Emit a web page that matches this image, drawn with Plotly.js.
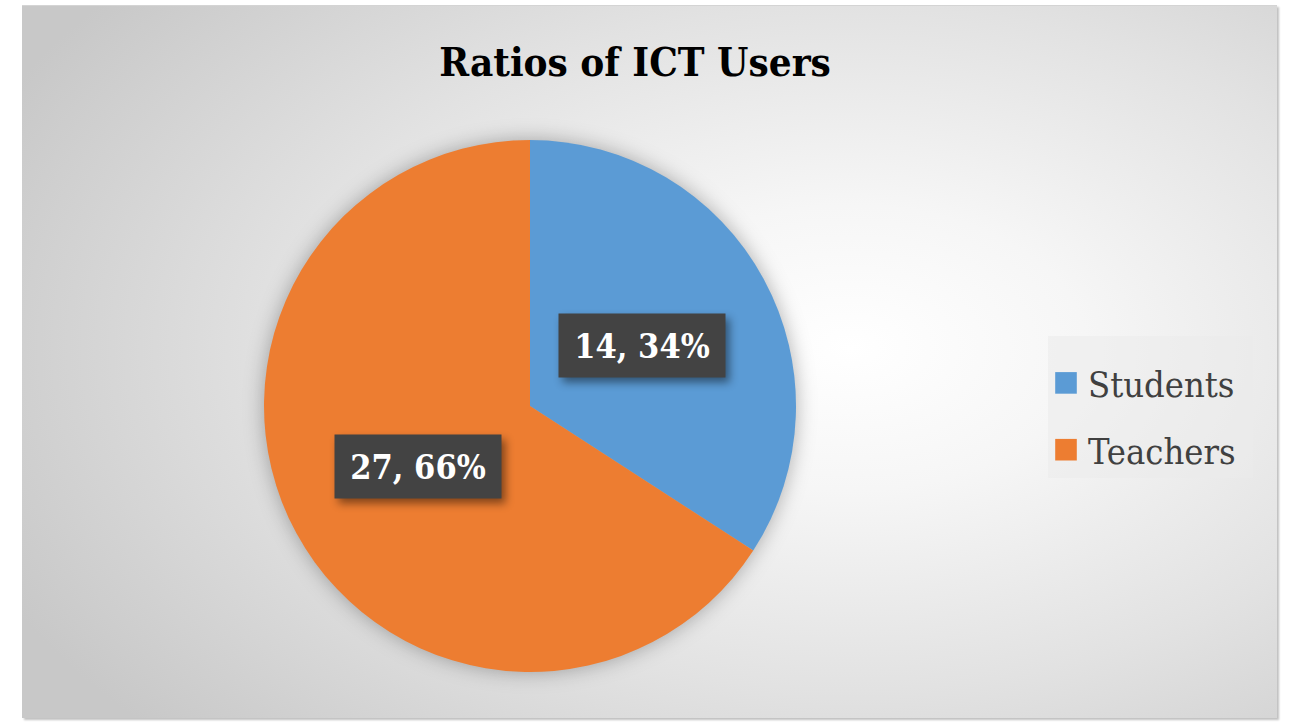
<!DOCTYPE html>
<html>
<head>
<meta charset="utf-8">
<script src="https://cdn.plot.ly/plotly-3.0.1.min.js"></script>
<style>
    body { margin: 0; background: #ffffff; }
    #frame {
        position: absolute; left: 22px; top: 5px; width: 1255px; height: 712px;
        border-top: 1px solid #d4d4d4;
        box-shadow: 2px 2px 2px rgba(0, 0, 0, 0.25);
        background: radial-gradient(ellipse 75% 80% at 66% 48%, #ffffff 0%, #f6f6f6 25%, #e2e2e2 60%, #c8c8c8 100%);
    }
    #myPlot { position: absolute; left: 0; top: 0; width: 1292px; height: 725px; }
    /* soft shadow round the pie and the label boxes, like the office chart */
    .pielayer { filter: drop-shadow(0 0 10px rgba(0, 0, 0, 0.3)); }
    .annotation rect.bg { filter: drop-shadow(4px 5px 4px rgba(0, 0, 0, 0.45)); }
    /* bigger legend squares (plotly draws them 12px wide at x=20) */
    .legendpoints path { transform: translate(18px, 0) scale(1.8); }
</style>
</head>
<body>
<div id="frame"></div>
<div id="myPlot"></div>
<script>
// chart data
var labels = ['Students', 'Teachers'];
var values = [14, 27];
var colors = ['#5B9BD5', '#ED7D31'];

var W = 1292;
var H = 725;

// pie placement (pixels)
var cx = 530;
var cy = 406;
var r  = 266;

var serif = 'DejaVu Serif Condensed, DejaVu Serif, serif';

function labelBoxes() {
    /* Build one annotation per slice, placed at mid-angle of the slice

    Slices go clockwise from 12 o'clock, so angle is measured from the top.
    */
    var total = 0;
    for (var i = 0; i < values.length; ++i) {
        total += values[i];
    }
    var out = [];
    var start = 0;
    for (var i = 0; i < values.length; ++i) {
        var frac = values[i] / total;
        var mid  = (start + frac / 2) * 2 * Math.PI;
        start += frac;
        var px = cx + 0.48 * r * Math.sin(mid);
        var py = cy - 0.48 * r * Math.cos(mid);
        out.push({
            x: px / W,
            y: 1 - py / H,
            xref: 'paper',
            yref: 'paper',
            xanchor: 'center',
            yanchor: 'middle',
            text: values[i] + ', ' + Math.round(frac * 100) + '%',
            showarrow: false,
            bgcolor: '#434343',
            width: 146,
            height: 43,
            borderpad: 10,
            font: { family: serif, size: 34, color: '#ffffff', weight: 'bold' }
        });
    }
    return out;
}

function spreadLegend(gd) {
    /* Plotly has no vertical gap option for legend items, so push them apart by hand
    */
    var gap = 17;
    var leg = gd.querySelector('.legend');
    var t = leg.getAttribute('transform') || '';
    leg.setAttribute('transform', t + ' translate(0,-15)');

    var box = gd.querySelector('.legend .scrollbox');
    if (box) box.removeAttribute('clip-path');

    var items = gd.querySelectorAll('.legend .traces');
    for (var i = 0; i < items.length; ++i) {
        var ti = items[i].getAttribute('transform') || '';
        items[i].setAttribute('transform', ti + ' translate(0,' + (gap * (i + 1)) + ')');
    }
    var bg = gd.querySelector('.legend .bg');
    bg.setAttribute('height', parseFloat(bg.getAttribute('height')) + 32);
    bg.setAttribute('width', parseFloat(bg.getAttribute('width')) + 12);
}

var trace = {
    type: 'pie',
    labels: labels,
    values: values,
    marker: { colors: colors, line: { width: 0 } },
    sort: false,
    direction: 'clockwise',
    rotation: 0,
    textinfo: 'none',
    hoverinfo: 'none',
    domain: { x: [(cx - r) / W, (cx + r) / W], y: [1 - (cy + r) / H, 1 - (cy - r) / H] }
};

var layout = {
    width: W,
    height: H,
    margin: { l: 0, r: 0, t: 0, b: 0 },
    paper_bgcolor: 'rgba(0,0,0,0)',
    plot_bgcolor: 'rgba(0,0,0,0)',
    title: {
        text: 'Ratios of ICT Users',
        x: 635 / W,
        xanchor: 'center',
        y: 1 - 62 / H,
        yanchor: 'middle',
        font: { family: serif, size: 40, color: '#000000', weight: 'bold' }
    },
    showlegend: true,
    legend: {
        x: 1048 / W,
        xanchor: 'left',
        y: 1 - 406 / H,
        yanchor: 'middle',
        bgcolor: 'rgba(235,235,235,0.55)',
        font: { family: serif, size: 36, color: '#404040' }
    },
    annotations: labelBoxes()
};

var config = { staticPlot: true };

Plotly.newPlot('myPlot', [trace], layout, config).then(spreadLegend);
</script>
</body>
</html>
